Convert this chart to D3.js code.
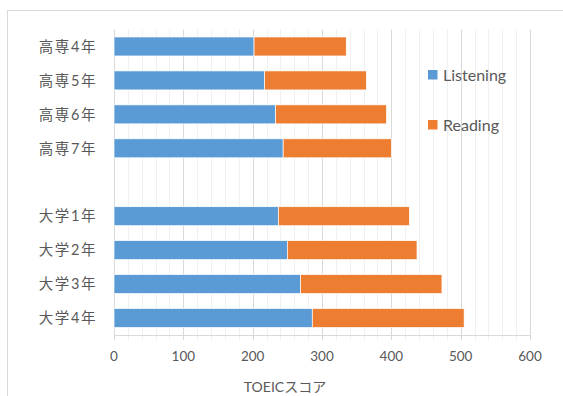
<!DOCTYPE html>
<html>
<head>
<meta charset="utf-8">
<script src="https://cdn.jsdelivr.net/npm/d3@7"></script>
<style>
  body { margin: 0; background: #fff; }
  text { font-family: Lato, "Noto Sans CJK JP", sans-serif; fill: #595959; }
</style>
</head>
<body>
<svg id="chart" width="563" height="396"></svg>
<script>
const categories = ["高専4年", "高専5年", "高専6年", "高専7年", "", "大学1年", "大学2年", "大学3年", "大学4年"];
const listening = [202, 217, 233, 244, null, 237, 250, 269, 286];
const reading = [133, 147, 160, 156, null, 189, 187, 204, 219];
const xTicks = [0, 100, 200, 300, 400, 500, 600];
const seriesNames = ["Listening", "Reading"];
const seriesColors = ["#5B9BD5", "#ED7D31"];

const svg = d3.select("#chart");

// chart frame
svg.append("rect")
  .attr("x", 7.5)
  .attr("y", 10.5)
  .attr("width", 600)
  .attr("height", 400)
  .attr("fill", "none")
  .attr("stroke", "#d9d9d9");

const x = d3.scaleLinear().domain([0, 600]).range([114, 530]);
const y = d3.scaleBand()
  .domain(d3.range(categories.length))
  .range([29.5, 335])
  .paddingInner(0.44)
  .paddingOuter(0.22);

// minor grid
svg.append("g")
  .selectAll("line")
  .data(d3.range(0, 601, 20).filter((d) => d % 100 !== 0))
  .join("line")
  .attr("x1", (d) => Math.round(x(d)) + 0.5)
  .attr("x2", (d) => Math.round(x(d)) + 0.5)
  .attr("y1", 29.5)
  .attr("y2", 340)
  .attr("stroke", "#f0f0f0");

// major grid
svg.append("g")
  .selectAll("line")
  .data(xTicks)
  .join("line")
  .attr("x1", (d) => Math.round(x(d)) + 0.5)
  .attr("x2", (d) => Math.round(x(d)) + 0.5)
  .attr("y1", 29.5)
  .attr("y2", 340)
  .attr("stroke", "#d9d9d9");

// x axis line
svg.append("line")
  .attr("x1", x(0))
  .attr("x2", x(600))
  .attr("y1", 335.5)
  .attr("y2", 335.5)
  .attr("stroke", "#d9d9d9");

// tick labels
svg.append("g")
  .selectAll("text")
  .data(xTicks)
  .join("text")
  .attr("x", (d) => x(d))
  .attr("y", 361)
  .attr("text-anchor", "middle")
  .attr("font-size", 13.5)
  .text((d) => d);

svg.append("text")
  .attr("x", 285)
  .attr("y", 392)
  .attr("text-anchor", "middle")
  .attr("font-size", 14)
  .text("TOEICスコア");

// bars
const rows = categories.map((c, i) => ({ i, c, l: listening[i], r: reading[i] }))
  .filter((d) => d.l != null);

svg.append("g")
  .selectAll("rect")
  .data(rows)
  .join("rect")
  .attr("x", x(0))
  .attr("y", (d) => y(d.i))
  .attr("width", (d) => x(d.l) - x(0))
  .attr("height", y.bandwidth())
  .attr("fill", seriesColors[0])
  .attr("stroke", "#fff")
  .attr("stroke-width", 0.7);

svg.append("g")
  .selectAll("rect")
  .data(rows)
  .join("rect")
  .attr("x", (d) => x(d.l))
  .attr("y", (d) => y(d.i))
  .attr("width", (d) => x(d.l + d.r) - x(d.l))
  .attr("height", y.bandwidth())
  .attr("fill", seriesColors[1])
  .attr("stroke", "#fff")
  .attr("stroke-width", 0.7);

// category labels
svg.append("g")
  .selectAll("text")
  .data(rows)
  .join("text")
  .attr("x", 97)
  .attr("y", (d) => y(d.i) + y.bandwidth() / 2)
  .attr("dy", "0.36em")
  .attr("text-anchor", "end")
  .attr("font-size", 14.5)
  .attr("letter-spacing", 1.6)
  .text((d) => d.c);

// legend
const legend = svg.append("g")
  .selectAll("g")
  .data(seriesNames)
  .join("g")
  .attr("transform", (d, i) => `translate(428,${70 + i * 50})`);

legend.append("rect")
  .attr("width", 9.5)
  .attr("height", 9.5)
  .attr("fill", (d, i) => seriesColors[i]);

legend.append("text")
  .attr("x", 15)
  .attr("y", 5)
  .attr("dy", "0.36em")
  .attr("font-size", 16)
  .text((d) => d);
</script>
</body>
</html>
